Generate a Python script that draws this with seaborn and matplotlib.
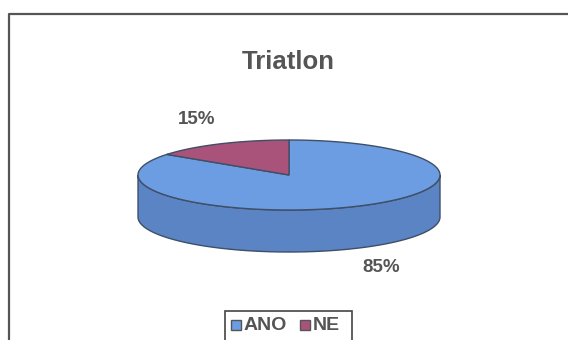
import numpy as np
import matplotlib
matplotlib.use("Agg")
import matplotlib.pyplot as plt
from matplotlib.patches import Polygon, Rectangle
import seaborn as sns

# --- data -------------------------------------------------------------
categories = ["ANO", "NE"]
shares = [85, 15]
chart_title = "Triatlon"

# --- style ------------------------------------------------------------
sns.set_theme(style="white")
plt.rcParams["font.family"] = ["Liberation Sans", "DejaVu Sans"]

top_colors = ["#6c9ce2", "#a9527a"]
side_colors = ["#5a84c4", "#8a3d60"]
edge_color = "#3f4f66"
text_color = "#555555"

W, H = 568, 340
fig = plt.figure(figsize=(W / 100, H / 100), dpi=100)
ax = fig.add_axes([0, 0, 1, 1])
ax.set_xlim(0, W)
ax.set_ylim(H, 0)
ax.axis("off")

# chart frame
ax.plot([9, 9, W], [H, 14, 14], color="#555555", lw=1.6, solid_capstyle="butt")

# --- 3D pie geometry (pixel space) ------------------------------------
cx, cy = 289, 175      # centre of the top face
a, b = 151, 35         # ellipse radii
depth = 42             # thickness of the disc


def ell(t, dy=0.0):
    t = np.asarray(t)
    return np.column_stack([cx + a * np.cos(t), cy - b * np.sin(t) + dy])


# slices run clockwise from 12 o'clock
total = float(sum(shares))
bounds = []
start = 90.0
for v in shares:
    end = start - 360.0 * v / total
    bounds.append((end, start))
    start = end

# outer side walls: only the front half (180..360 deg) is visible
for (t1, t2), sc in zip(bounds, side_colors):
    for k in (-1, 0, 1):
        lo = max(t1 + 360 * k, 180.0)
        hi = min(t2 + 360 * k, 360.0)
        if hi <= lo:
            continue
        ts = np.radians(np.linspace(lo, hi, 120))
        pts = np.vstack([ell(ts), ell(ts[::-1], depth)])
        ax.add_patch(Polygon(pts, closed=True, facecolor=sc,
                             edgecolor=edge_color, lw=1.0, zorder=2))

# top faces
for (t1, t2), tc in zip(bounds, top_colors):
    ts = np.radians(np.linspace(t1, t2, 200))
    pts = np.vstack([[cx, cy], ell(ts)])
    ax.add_patch(Polygon(pts, closed=True, facecolor=tc,
                         edgecolor=edge_color, lw=1.0, zorder=3))

# --- texts ------------------------------------------------------------
ax.text(288, 62, chart_title, ha="center", va="center", fontsize=18.5,
        fontweight="bold", color=text_color)

label_pos = {"ANO": (381, 268), "NE": (197, 119)}
for cat, v in zip(categories, shares):
    x, y = label_pos[cat]
    ax.text(x, y, f"{v}%", ha="center", va="center", fontsize=13.5,
            fontweight="bold", color=text_color)

# legend box
ax.add_patch(Rectangle((225, 311), 127, 40, facecolor="white",
                       edgecolor="#444444", lw=1.2, zorder=4))
leg_x = [231, 300]
for cat, tc, x in zip(categories, top_colors, leg_x):
    ax.add_patch(Rectangle((x, 320), 10, 10, facecolor=tc,
                           edgecolor="#555555", lw=1.0, zorder=5))
    ax.text(x + 13, 326, cat, ha="left", va="center", fontsize=14,
            fontweight="bold", color=text_color, zorder=5)

fig.savefig("out.png", dpi=100, facecolor="white")
